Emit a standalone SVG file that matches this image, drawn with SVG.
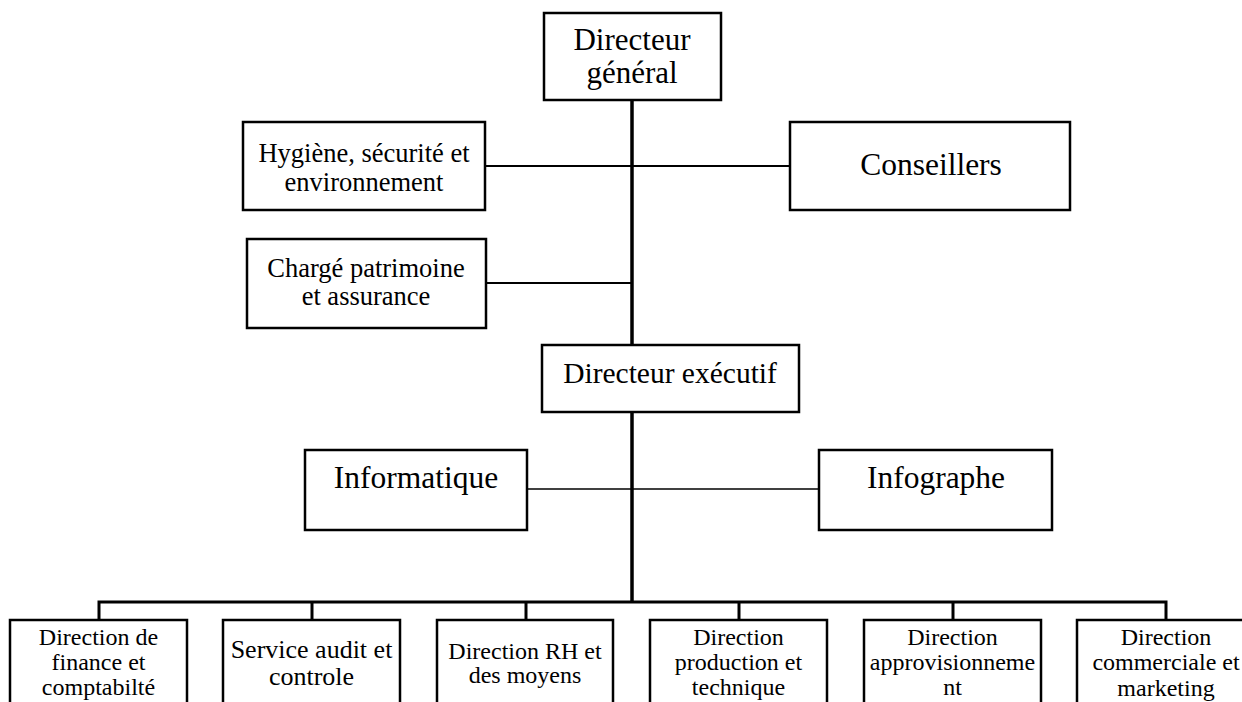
<svg xmlns="http://www.w3.org/2000/svg" width="1242" height="702" viewBox="0 0 1242 702">
<style>
.box{fill:#fff;stroke:#000;stroke-width:2.5}
.t{font-family:"Liberation Serif","Times New Roman",serif;fill:#000;text-anchor:middle}
.ln{stroke:#000;fill:none}
</style>
<rect width="1242" height="702" fill="#fff"/>
<g id="connectors">
<line class="ln" x1="632" y1="100" x2="632" y2="603" stroke-width="3.5"/>
<line class="ln" x1="485" y1="166" x2="790" y2="166" stroke-width="2"/>
<line class="ln" x1="486" y1="283" x2="632" y2="283" stroke-width="2"/>
<line class="ln" x1="527" y1="489" x2="819" y2="489" stroke-width="1.5"/>
<polyline class="ln" points="99,620 99,602 1166,602 1166,620" stroke-width="3"/>
<line class="ln" x1="312" y1="602" x2="312" y2="620" stroke-width="3"/>
<line class="ln" x1="526" y1="602" x2="526" y2="620" stroke-width="3"/>
<line class="ln" x1="739" y1="602" x2="739" y2="620" stroke-width="3"/>
<line class="ln" x1="953" y1="602" x2="953" y2="620" stroke-width="3"/>
</g>
<g id="directeur-general">
<rect class="box" x="544" y="13" width="177" height="87"/>
<text class="t" font-size="31" x="632" y="50">Directeur</text>
<text class="t" font-size="31" x="632" y="83">général</text>
</g>
<g id="hygiene">
<rect class="box" x="243" y="122" width="242" height="88"/>
<text class="t" font-size="26.5" x="364" y="162">Hygiène, sécurité et</text>
<text class="t" font-size="26.5" x="364" y="191">environnement</text>
</g>
<g id="conseillers">
<rect class="box" x="790" y="122" width="280" height="88"/>
<text class="t" font-size="31.5" x="931" y="175">Conseillers</text>
</g>
<g id="charge-patrimoine">
<rect class="box" x="247" y="239" width="239" height="89"/>
<text class="t" font-size="26.5" x="366" y="277">Chargé patrimoine</text>
<text class="t" font-size="26.5" x="366" y="305">et assurance</text>
</g>
<g id="directeur-executif">
<rect class="box" x="542" y="345" width="257" height="67"/>
<text class="t" font-size="29.5" x="670" y="383">Directeur exécutif</text>
</g>
<g id="informatique">
<rect class="box" x="305" y="450" width="222" height="80"/>
<text class="t" font-size="31.5" x="416" y="488">Informatique</text>
</g>
<g id="infographe">
<rect class="box" x="819" y="450" width="233" height="80"/>
<text class="t" font-size="31.5" x="936" y="488">Infographe</text>
</g>
<g id="dir-finance">
<rect class="box" x="10" y="620" width="177" height="95"/>
<text class="t" font-size="24" x="98.5" y="645">Direction de</text>
<text class="t" font-size="24" x="98.5" y="670">finance et</text>
<text class="t" font-size="24" x="98.5" y="695">comptabilté</text>
</g>
<g id="service-audit">
<rect class="box" x="223" y="620" width="177" height="95"/>
<text class="t" font-size="26" x="311.5" y="658">Service audit et</text>
<text class="t" font-size="26" x="311.5" y="685">controle</text>
</g>
<g id="dir-rh">
<rect class="box" x="437" y="620" width="176" height="95"/>
<text class="t" font-size="24" x="525" y="659">Direction RH et</text>
<text class="t" font-size="24" x="525" y="683">des moyens</text>
</g>
<g id="dir-production">
<rect class="box" x="650" y="620" width="177" height="95"/>
<text class="t" font-size="24" x="738.5" y="645">Direction</text>
<text class="t" font-size="24" x="738.5" y="670">production et</text>
<text class="t" font-size="24" x="738.5" y="695">technique</text>
</g>
<g id="dir-approvisionnement">
<rect class="box" x="864" y="620" width="177" height="95"/>
<text class="t" font-size="24" x="952.5" y="645">Direction</text>
<text class="t" font-size="24" x="952.5" y="670">approvisionneme</text>
<text class="t" font-size="24" x="952.5" y="695">nt</text>
</g>
<g id="dir-commerciale">
<rect class="box" x="1077" y="620" width="177" height="95"/>
<text class="t" font-size="24" x="1166" y="645">Direction</text>
<text class="t" font-size="24" x="1166" y="670">commerciale et</text>
<text class="t" font-size="24" x="1166" y="696">marketing</text>
</g>
</svg>
